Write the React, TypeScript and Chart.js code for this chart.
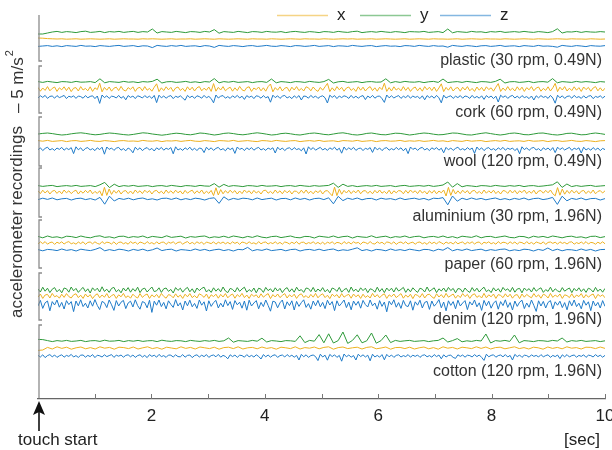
import { useEffect, useRef } from 'react';
import { Chart, registerables } from 'chart.js';
Chart.register(...registerables);

// ---------- data (m/s², deviations around each trace's rest level) ----------
const SERIES_NAMES = ['x', 'y', 'z'];
const PANEL_LABELS = [
  'plastic (30 rpm, 0.49N)',
  'cork (60 rpm, 0.49N)',
  'wool (120 rpm, 0.49N)',
  'aluminium (30 rpm, 1.96N)',
  'paper (60 rpm, 1.96N)',
  'denim (120 rpm, 1.96N)',
  'cotton (120 rpm, 1.96N)',
];
const TIME_MIN = 0;
const TIME_MAX = 10;
const X_TICK_LABELS = [2, 4, 6, 8, 10];

const plasticX = [0.5,0.4,0.2,0.1,0,0.1,-0.1,0,0.1,-0.1,0,0.1,0,-0.1,0,0.1,-0.1,0,0.1,0,
 0,-0.1,0.1,0,0.1,0,-0.1,0,0.1,-0.1,0,0,0.1,-0.1,0,0.1,0,-0.1,0.1,0,
 -0.1,0,0.1,0,-0.1,0.1,0,0,-0.1,0.1,0,-0.1,0,0.1,0,-0.1,0.1,0,0,-0.1,
 0.1,0,-0.1,0,0.1,0,0.1,-0.1,0,0,0.1,-0.1,0,0.1,0,-0.1,0,0.1,-0.1,0,
 0.1,0,-0.1,0.1,0,0,-0.1,0,0.1,-0.1,0,0.1,0,-0.1,0.1,0,0,-0.1,0.1,0,
 -0.1,0,0.1,0,-0.1,0.1,0,-0.1,0,0.1,0,-0.1,0.1,0,0,-0.1,0.1,0,-0.1,0];
const plasticY = [-1,-1,-0.5,0,0.3,-0.2,0.2,0,-0.3,0.2,0.4,-0.2,0,0.3,-0.3,0.2,0,0.3,-0.2,0.1,
 0.3,-0.2,0.2,0,1.5,-0.5,0.2,0,-0.2,0.3,0,-0.3,0.2,0.1,-0.2,0.3,0,1.2,-0.6,0.2,
 0,-0.2,0.3,0,-0.3,0.2,0.1,-0.2,0.3,0,-0.1,0.2,-0.3,0.1,0.3,0,-0.2,0.2,0,-0.3,
 0.2,0.1,-0.2,0.3,0,-0.2,0.2,0.4,-0.3,0,0.2,-0.1,0.3,0,-0.2,0.2,0,-0.3,0.2,0.1,
 0,0.3,-0.2,0,0.2,-0.3,1.5,-0.4,0.2,0,-0.2,0.3,0,0.1,-0.3,0.2,0,0.3,-0.2,0,
 0.2,-0.1,0.3,0,-0.2,0.2,0,-0.3,0.2,1.6,-0.5,0.1,0,0.3,-0.2,0.2,0,-0.1,0.2,0];
const plasticZ = [-0.2,0,0.2,-0.2,0.1,-0.3,0.2,0,-0.2,0.3,-0.1,0,-0.3,0.2,0,-0.2,0.1,0.3,-0.2,0,
 0.2,-0.3,0.1,0,-0.8,0.3,0,-0.2,0.2,-0.1,0.3,-0.2,0,0.1,-0.3,0.2,0,-0.7,0.3,0,
 -0.2,0.2,0,-0.3,0.1,0.2,-0.2,0,0.3,-0.1,-0.2,0.2,0,-0.3,0.2,0.1,-0.2,0,0.3,-0.2,
 0,0.2,-0.3,0.1,0,-0.2,0.3,0,-0.2,0.1,0.2,-0.3,0,0.2,-0.1,0,-0.3,0.2,0.1,-0.2,
 0.3,0,-0.2,0.2,-0.1,0,-0.6,0.3,0,-0.2,0.2,0,-0.3,0.1,0.2,-0.2,0,0.3,-0.2,0,
 0.1,-0.3,0.2,0,-0.2,0.3,-0.1,0,-0.2,-0.6,0.3,0,-0.2,0.2,0,-0.3,0.2,0,-0.1,0.2];

const corkX = [0.8,-1.1,0.5,-0.7,1.2,-0.9,0.3,1,-1.2,0.6,-0.4,1.1,-0.8,0.9,-1.3,0.4,0.7,-1,1.2,-0.5,
 0.3,-0.9,1.1,-1.2,0.6,-0.3,2.9,-1.4,0.8,-0.6,1,-1.1,0.4,0.9,-0.8,1.3,-0.5,-1,0.7,-0.2,
 1.1,-1.2,0.5,0.8,-0.9,1.2,-0.6,0.3,-1.1,0.9,2.6,-1.3,0.6,-0.8,1.1,-0.4,0.8,-1.2,0.5,1,
 -0.7,0.3,-1.2,1.1,-0.5,0.9,-1,0.6,1.2,-0.9,0.4,-0.6,1,-1.2,2.7,-1.1,0.8,-0.5,1.2,-0.9,
 0.2,0.9,-1.1,0.6,-0.8,1.3,-0.4,-1,0.7,1.1,-1.2,0.5,-0.3,1,-0.9,0.6,-1.1,1.2,2.5,-1.4,
 0.7,-0.6,1.1,-1,0.4,0.8,-1.2,0.9,-0.5,1.2,-0.8,0.3,-1,1.1,0.6,-0.9,1,-0.4,-1.2,0.8,
 -0.6,1.1,2.8,-1.3,0.6,-0.9,1.2,-0.4,0.8,-1.1,0.5,1,-0.7,0.3,-1.2,1.1,-0.6,0.9,-1,0.4,
 1.2,-0.8,0.6,-1.1,0.9,-0.3,2.9,-1.2,0.7,-1,1.1,-0.5,0.4,-0.9,1.2,-0.7,0.8,-1.2,0.3,1,
 -0.9,0.6,-1.1,1.2,-0.4,0.9,-0.8,1,-1.2,0.5,2.6,-1.3,0.8,-0.6,1.1,-1,0.4,0.7,-1.1,0.9,
 -0.5,1.2,-0.9,0.3,-1.2,1,-0.6,0.8,-1,1.1,-0.3,0.6,-1.1,0.9,2.7,-1.2,0.5,-0.8,1.2,-0.7,
 0.4,-1,1.1,-0.6,0.9,-1.2,0.7,-0.4,1.2,-0.9,0.5,1,-1.1,0.3,-0.7,1.1,-1,0.6,2.8,-1.3,
 0.9,-0.5,1.2,-1,0.4,-0.8,1.1,-0.6,0.7,-1.2,1,-0.3,0.8,-1.1,0.5,1.2,-0.9,0.6,-1,0.4];
const corkY = [0.2,-0.2,0.3,0,-0.3,0.2,0.1,-0.2,0.3,-0.1,0,0.2,-0.3,1.6,-0.4,0.2,0,-0.2,0.3,-0.1,
 0.1,-0.3,0.2,0,0.3,1.4,-0.5,0.1,0.2,-0.2,0,0.3,-0.2,0.1,-0.3,0.2,0,1.7,-0.4,0.2,
 -0.1,0.3,-0.2,0,0.2,-0.3,0.1,0.2,-0.2,1.5,-0.4,0.2,0,-0.3,0.2,0.1,-0.2,0.3,0,-0.2,
 0.2,1.3,-0.5,0.1,0.3,-0.2,0,0.2,-0.3,0.1,0.2,-0.1,0,1.6,-0.4,0.2,-0.2,0.3,0,-0.1,
 0.2,-0.3,0.1,0.3,-0.2,1.5,-0.3,0,0.2,-0.2,0.3,0,-0.3,0.2,0.1,-0.2,0.3,1.4,-0.5,0.1,
 0.2,-0.2,0,0.3,-0.3,0.1,0.2,-0.1,1.7,-0.4,0.2,0,-0.2,0.3,-0.1,0.2,0,-0.3,0.2,0];
const corkZ = [-0.5,0.6,-0.2,0.8,-0.7,0.3,0.5,-0.6,0.7,-0.3,0.2,0.8,-0.8,0.4,-0.1,0.6,-0.7,0.5,0.2,-0.6,
 0.7,-0.4,0.3,0.6,-0.8,0.5,-3.2,1,-0.3,0.6,-0.7,0.4,0.2,-0.5,0.8,-0.6,0.3,-1.4,0.7,-0.2,
 0.5,-0.8,0.6,0.2,-0.5,0.7,-0.3,0.4,-0.7,0.8,-2.8,0.9,-0.4,0.5,-0.6,0.3,0.7,-0.8,0.4,-0.2,
 0.6,-0.5,-1.6,0.8,-0.3,0.5,-0.7,0.6,0.2,-0.6,0.8,-0.4,0.3,-0.8,-2.9,1,-0.5,0.4,0.7,-0.6,
 0.2,-0.7,0.6,-0.3,0.8,-0.5,0.4,-1.2,0.7,-0.2,0.5,-0.8,0.6,0.3,-0.6,0.7,-0.4,0.2,-2.6,0.9,
 -0.3,0.6,-0.7,0.4,0.8,-0.5,0.2,-0.8,0.6,-0.4,0.7,-1.5,0.5,0.3,-0.6,0.8,-0.3,0.5,-0.7,0.2,
 0.6,-0.4,-3,0.9,-0.2,0.7,-0.8,0.5,-0.3,0.6,0.2,-0.7,0.8,-0.5,0.4,-0.6,0.3,0.7,-1.3,0.5,
 -0.4,0.8,-0.6,0.3,0.5,-0.8,-2.7,1,-0.4,0.6,-0.5,0.2,0.7,-0.7,0.4,-0.3,0.8,-0.6,0.5,-0.2,
 0.3,-0.8,0.6,-1.4,0.7,-0.3,0.5,-0.6,0.8,-0.4,-2.9,0.9,-0.5,0.2,0.6,-0.7,0.4,-0.3,0.7,-0.6,
 0.5,0.2,-0.7,0.8,-0.5,0.3,-0.6,0.6,-1.2,0.7,-0.3,0.5,-0.8,0.4,-2.5,0.9,-0.2,0.6,-0.7,0.3,
 0.8,-0.5,0.4,-0.6,0.7,-0.3,0.2,-0.8,0.5,-1.5,0.6,-0.4,0.7,-0.2,0.3,-0.7,0.8,-0.5,-3.1,0.9,
 -0.4,0.6,-0.7,0.3,0.5,-0.6,0.8,-0.3,0.2,-0.7,0.6,-0.5,0.4,0.7,-0.8,0.3,-0.2,0.6,-0.5,0.4];

const woolX = [0.2,-0.1,0.3,-0.2,0,0.2,-0.3,0.1,0.2,-0.2,0,0.3,-0.1,-0.2,0.2,0,-0.3,0.1,0.2,-0.1,
 0,-0.2,0.3,0,-0.1,0.2,-0.3,0.1,0,0.2,-0.2,0.1,0.3,-0.1,-0.2,0.2,0,-0.3,0.2,0.1,
 -0.1,0.3,-0.2,0,0.2,-0.1,-0.3,0.2,0.1,-0.2,0.3,0,-0.2,0.1,0.2,-0.3,0,0.2,-0.1,0.3,
 -0.2,0,0.1,-0.3,0.2,0.1,-0.1,0.3,-0.2,0,0.2,-0.3,0.1,0.2,-0.1,0,0.3,-0.2,0.1,-0.1,
 0.2,-0.2,0,0.3,-0.1,0.1,-0.3,0.2,0,-0.2,0.3,-0.1,0.1,0.2,-0.3,0,0.2,-0.1,0.3,-0.2,
 0,0.1,-0.2,0.3,-0.1,0,0.2,-0.3,0.1,0.2,-0.2,0,0.3,-0.1,-0.2,0.2,0,-0.3,0.1,0.2];
const woolY = [0,0.3,0.5,0.2,-0.2,-0.5,-0.3,0.1,0.4,0.6,0.3,-0.1,-0.4,-0.2,0.2,0.5,0.3,0,-0.3,-0.5,
 -0.2,0.2,0.6,0.4,0,-0.3,-0.6,-0.3,0.1,0.4,0.2,-0.2,-0.4,0,0.5,0.3,-0.1,-0.5,-0.2,0.3,
 0.5,0.2,-0.2,-0.4,-0.1,0.3,0.6,0.3,-0.1,-0.5,-0.3,0.2,0.4,0.1,-0.3,-0.5,-0.1,0.3,0.5,0.2,
 -0.2,-0.4,0,0.4,0.6,0.2,-0.3,-0.5,-0.2,0.3,0.5,0.1,-0.3,-0.4,0,0.4,0.3,-0.1,-0.5,-0.2,
 0.2,0.5,0.3,-0.1,-0.4,-0.3,0.1,0.5,0.4,0,-0.4,-0.5,-0.1,0.3,0.6,0.2,-0.2,-0.5,-0.2,0.3,
 0.5,0.2,-0.3,-0.4,0,0.4,0.5,0.1,-0.3,-0.5,-0.2,0.3,0.4,0,-0.4,-0.3,0.2,0.5,0.2,-0.2];
const woolZ = [-0.4,0.6,-0.8,0.3,0.9,-0.5,0.2,-0.7,0.5,-0.2,0.8,-0.6,0.4,-0.3,0.7,-2.3,1.1,-0.4,0.6,-0.9,
 0.3,0.7,-0.5,0.2,-0.8,0.6,-0.3,0.9,-2.6,1,-0.2,0.5,-0.7,0.4,0.8,-0.6,0.2,-0.9,0.5,-0.3,
 -1.9,0.9,-0.4,0.6,-0.8,0.2,0.7,-0.5,0.3,-1,0.6,-0.3,0.8,-0.6,0.4,-0.2,0.7,-2.4,1.1,-0.5,
 0.2,-0.7,0.6,-0.3,0.9,-0.6,0.4,-0.8,0.5,0.2,-1.8,0.9,-0.4,0.6,-0.7,0.3,0.8,-0.5,0.2,-0.9,
 0.6,-0.3,0.5,-2.2,1,-0.2,0.4,-0.8,0.6,-0.3,0.7,-0.6,0.3,0.8,-0.5,0.2,-0.7,0.5,-0.2,0.6,
 -2,0.9,-0.4,0.5,-0.8,0.3,0.6,-0.5,0.7,-0.3,0.2,-0.9,0.6,-2.5,1.1,-0.3,0.7,-0.6,0.2,0.8,
 -0.5,0.3,-0.7,0.6,-0.2,0.9,-0.6,0.4,-2.1,1,-0.5,0.6,-0.3,0.8,-0.7,0.2,0.5,-0.8,0.4,-0.2,
 0.7,-1.7,0.9,-0.4,0.5,-0.8,0.3,0.7,-0.6,0.2,-0.5,0.8,-0.3,0.6,-0.9,0.4,-2.3,1,-0.2,0.5,
 -0.7,0.4,0.8,-0.5,0.3,-0.8,0.6,-0.2,0.7,-0.6,0.4,-1.9,0.8,-0.4,0.5,-0.7,0.3,0.9,-0.5,0.2,
 -0.6,0.7,-0.3,0.5,-2.2,1,-0.4,0.6,-0.8,0.3,0.7,-0.5,0.2,-0.7,0.6,-0.3,0.8,-0.6,0.4,-0.2,
 0.5,-0.8,0.3,-2.4,1.1,-0.3,0.6,-0.7,0.4,0.8,-0.5,0.2,-0.9,0.6,-0.3,0.5,-0.7,0.7,-1.8,0.9,
 -0.3,0.6,-0.5,0.2,0.8,-0.7,0.4,-0.2,0.6,-2,0.9,-0.5,0.3,-0.6,0.7,-0.4,0.5,-0.8,0.3,-0.3];

const aluminiumX = [0.6,-0.8,0.9,-0.5,0.7,-1,0.4,0.8,-0.7,0.5,-0.9,1,-0.4,0.6,-0.8,0.3,0.9,-1,0.5,-0.6,
 0.8,-0.4,1,-0.9,0.3,-0.7,0.6,-1.9,2.3,-1.7,1.5,-1.2,0.8,-0.6,0.9,-1,0.4,0.7,-0.8,0.5,
 -0.9,1,-0.4,0.6,-0.8,0.9,-0.3,0.7,-1,0.5,0.8,-0.6,0.4,-0.9,1,-0.5,0.6,-0.7,0.9,-0.4,
 0.5,-1,0.8,-0.6,0.3,0.9,-0.8,0.6,-0.5,1,-0.9,0.4,-0.7,0.8,-1.8,2.1,-1.5,1.2,-0.9,0.7,
 -0.6,0.9,-0.4,0.7,-1,0.5,-0.8,1,-0.3,0.6,-0.9,0.8,-0.5,0.4,-1,0.7,0.9,-0.6,0.3,-0.8,
 1,-0.5,0.6,-0.9,0.8,-0.4,0.7,-1,0.5,0.3,-0.8,0.9,-0.6,1,-0.7,0.4,-0.9,0.6,-0.3,0.8,
 -1,0.5,0.7,-0.6,-1.9,2.4,-1.8,1.4,-1.1,0.8,-0.5,0.9,-0.8,0.6,-0.4,1,-0.9,0.5,0.7,-0.7,
 0.4,-0.9,0.8,-0.5,1,-0.6,0.3,-0.8,0.9,-1,0.6,-0.4,0.7,0.5,-0.9,0.8,-0.6,1,-0.3,0.6,
 -0.8,0.9,-0.5,0.4,-1,0.7,-0.6,0.8,-0.9,0.5,-0.4,1,-2,2.3,-1.7,1.3,-1,0.6,-0.8,0.9,
 -0.4,0.7,-1,0.5,0.8,-0.7,0.3,-0.9,1,-0.6,0.6,-0.5,0.9,-0.8,0.4,-1,0.7,0.5,-0.7,0.9,
 -0.5,0.8,-0.9,0.6,-0.3,1,-0.8,0.4,-0.6,0.9,-1,0.5,0.7,-0.6,0.8,-0.4,1,-0.9,-1.9,2.2,
 -1.6,1.5,-1.1,0.8,-0.7,0.9,-0.5,0.6,-1,0.4,0.8,-0.8,0.5,-0.6,1,-0.9,0.3,0.7,-0.5,0.6];
const aluminiumY = [0.2,-0.2,0.1,0.3,-0.3,0,0.2,-0.1,0.3,-0.2,0,0.2,-0.3,0.6,1.8,-0.8,0.9,-0.3,0.2,-0.1,
 0.3,-0.2,0,0.2,-0.3,0.1,0.2,-0.2,0.3,0,-0.3,0.2,0.1,-0.2,0.3,0,-0.1,1.2,-0.6,0.8,
 -0.2,0.2,0,-0.3,0.2,0.1,-0.2,0.3,-0.1,0,0.2,-0.3,0.1,0.2,-0.2,0.3,0,-0.2,0.2,-0.1,
 0.1,0.3,1.4,-0.7,0.9,-0.2,0.2,-0.3,0,0.2,-0.1,0.3,-0.2,0,0.2,-0.3,0.1,0.3,-0.2,0,
 0.2,-0.1,0.3,-0.2,0.1,0.5,2,-0.6,1.2,-0.4,0.2,0,-0.3,0.2,0.1,-0.2,0.3,0,-0.2,0.2,
 -0.1,0.3,-0.3,0.1,0.2,-0.2,0,0.3,0.6,2.1,-0.7,1,-0.3,0.2,-0.2,0.1,0.3,-0.2,0,0.2];
const aluminiumZ = [-0.3,0.4,-0.2,0.5,-0.4,0.1,0.3,-0.5,0.2,0.4,-0.3,0.2,-0.5,0.8,-2.6,1.4,-1,0.3,-0.2,0.4,
 -0.4,0.2,0.5,-0.3,0.1,-0.5,0.3,0.4,-0.2,0.5,-0.4,0.2,-0.3,0.4,0.1,-0.5,0.3,0.6,-2.2,1.1,
 -0.5,0.3,-0.2,0.4,0.2,-0.4,0.5,-0.3,0.1,0.4,-0.5,0.2,0.3,-0.4,0.5,-0.2,0.3,-0.5,0.2,0.4,
 -0.3,0.6,-2.4,1.3,-0.8,0.4,-0.2,0.5,-0.4,0.2,0.3,-0.5,0.4,-0.1,0.2,-0.4,0.5,-0.3,0.1,0.4,
 -0.2,0.3,-0.5,0.4,0.2,0.7,-2.9,1.5,-1.1,0.4,-0.3,0.5,-0.2,0.3,-0.4,0.1,0.5,-0.3,0.2,-0.4,
 0.3,-0.2,0.5,-0.4,0.2,0.4,-0.3,0.1,0.8,-2.7,1.4,-0.9,0.3,-0.2,0.5,-0.4,0.2,0.3,-0.5,0.2];

const paperX = [-0.5,0.6,-0.3,0.7,-0.6,0.2,0.5,-0.7,0.4,-0.2,0.6,-0.5,0.3,0.7,-0.4,0.1,-0.6,0.5,-0.3,0.6,
 -0.7,0.3,0.5,-0.4,0.6,-0.2,-0.6,0.7,-0.3,0.4,0.2,-0.5,0.6,-0.7,0.3,0.5,-0.4,0.2,-0.6,0.7,
 -0.2,0.4,-0.6,0.5,0.1,-0.5,0.7,-0.3,0.2,-0.6,0.6,-0.4,0.3,0.5,-0.7,0.4,-0.1,0.6,-0.5,0.3,
 0.5,-0.6,0.2,0.7,-0.4,0.3,-0.5,0.6,-0.2,0.4,-0.7,0.5,0.1,-0.3,0.6,-0.6,0.4,-0.2,0.5,-0.4,
 0.3,-0.5,0.6,-0.2,0.4,-0.7,0.5,0.2,-0.4,0.6,-0.3,0.1,-0.6,0.7,-0.4,0.3,0.5,-0.5,0.2,-0.3,
 0.6,-0.4,0.3,-0.6,0.5,0.2,-0.5,0.4,-0.3,0.7,-0.6,0.3,0.4,-0.5,0.2,-0.2,0.6,-0.4,0.3,-0.5,
 0.4,-0.7,0.5,-0.2,0.6,-0.5,0.3,0.1,-0.6,0.7,-0.3,0.4,-0.5,0.6,-0.1,0.3,-0.7,0.5,0.2,-0.4,
 0.7,-0.3,-0.5,0.6,-0.2,0.4,-0.6,0.5,0.3,-0.4,0.6,-0.7,0.2,0.5,-0.3,0.6,-0.5,0.1,0.4,-0.6,
 0.3,0.5,-0.4,0.2,-0.7,0.6,-0.3,0.4,-0.5,0.7,0.1,-0.6,0.5,-0.2,0.3,-0.5,0.6,-0.4,0.2,0.5,
 -0.6,0.4,-0.2,0.6,-0.5,0.3,0.5,-0.7,0.4,-0.1,0.6,-0.4,0.2,-0.6,0.7,-0.3,0.4,0.2,-0.5,0.6,
 -0.3,0.5,-0.6,0.4,0.2,-0.5,0.7,-0.4,0.3,-0.6,0.5,0.1,-0.4,0.6,-0.7,0.3,0.5,-0.2,0.4,-0.6,
 0.6,-0.2,0.3,-0.5,0.4,0.6,-0.6,0.2,-0.3,0.5,-0.4,0.7,-0.5,0.3,0.1,-0.6,0.4,-0.3,0.6,-0.4];
const paperY = [0.3,-0.4,0.5,-0.2,0.1,-0.5,0.4,0.2,-0.3,0.5,-0.1,-0.4,0.3,0.6,-0.2,0.1,-0.5,0.3,0.4,-0.3,
 0.2,-0.1,0.5,-0.4,0.3,0,-0.3,0.6,-0.2,0.1,0.4,-0.5,0.2,-0.1,0.3,0.5,-0.4,0.1,-0.2,0.4,
 -0.3,0.5,0.1,-0.4,0.3,-0.2,0.6,-0.1,-0.4,0.2,0.4,-0.3,0.1,0.5,-0.2,-0.4,0.3,0.2,-0.5,0.4,
 0.1,-0.2,0.5,-0.3,0.2,0.4,-0.5,0.3,0,-0.2,0.6,-0.3,0.1,0.4,-0.4,0.2,-0.1,0.5,-0.3,0.2,
 0.4,-0.4,0.1,0.3,-0.2,0.5,-0.3,0.2,-0.5,0.4,0.1,-0.2,0.6,-0.4,0.2,0.3,-0.3,0.1,0.5,-0.2,
 -0.4,0.3,0.2,-0.5,0.4,-0.1,0.3,-0.3,0.5,0.1,-0.4,0.2,0.4,-0.2,0.1,-0.5,0.3,0.4,-0.3,0.2];
const paperZ = [0.2,-0.4,0.3,0.1,-0.3,0.5,-0.2,0.2,-0.5,0.4,0,-0.3,0.3,1.2,-0.4,0.2,-0.3,0.4,0.1,-0.5,
 0.3,-0.2,0.4,-0.4,0.1,1,-0.3,0.2,0.4,-0.5,0.2,0,-0.3,0.5,-0.2,0.3,-0.4,0.1,0.4,-0.3,
 0.2,-0.5,0.3,0.1,1.3,-0.4,0.2,-0.2,0.5,-0.3,0,0.3,-0.4,0.2,0.4,-0.5,0.1,0.3,-0.2,0.4,
 -0.3,0.2,0.5,-0.4,0.1,-0.2,0.4,1.1,-0.3,0.2,-0.5,0.3,0.1,-0.4,0.5,-0.2,0.2,-0.3,0.4,0,
 -0.4,0.3,0.2,-0.5,0.4,-0.1,1.2,-0.4,0.3,-0.2,0.5,-0.3,0.1,0.4,-0.4,0.2,-0.2,0.3,0.5,-0.4,
 0.1,-0.3,0.4,0.2,-0.5,0.3,-0.2,1,-0.3,0.4,-0.4,0.2,0.1,-0.3,0.5,-0.2,0.3,-0.5,0.2,0.3];

const denimX = [-0.6,1,-1.2,0.5,0.8,-1,1.3,-0.4,0.2,-1.1,0.9,-0.7,1.2,-0.3,-1,0.6,1.1,-0.8,0.4,-1.2,
 1,-0.5,0.7,-1.3,0.3,1.1,-0.9,0.5,-0.6,1.2,-1,0.2,0.8,-1.2,0.6,-0.4,1.3,-0.8,0.1,-1.1,
 0.9,-0.3,-1,1.2,-0.7,0.4,1,-1.2,0.6,-0.5,0.8,-0.9,1.3,-0.2,-1.1,0.7,0.3,-0.9,1.1,-0.6,
 0.5,-1.2,0.9,-0.4,1.2,-0.8,0.2,-1,1.1,0.4,-0.7,1,-1.3,0.6,-0.3,0.9,-1.1,0.8,-0.5,1.2,
 -0.9,0.3,1,-1.1,0.7,-0.4,1.3,-0.8,0.5,-1.2,0.9,-0.2,0.6,-1,1.1,-0.6,0.4,1.2,-1.3,0.7,
 -0.5,1,-0.8,0.3,1.2,-1,0.6,-0.4,0.9,-1.2,0.5,1.1,-0.7,0.2,-1,0.8,-0.6,1.3,-0.9,0.4,
 1.1,-0.8,0.4,-1.3,0.9,-0.2,0.7,-1,1.2,-0.6,0.3,0.8,-1.1,1,-0.4,0.6,-1.2,0.9,-0.7,0.2,
 -1,1.3,-0.5,0.7,-0.9,0.4,1.1,-1.2,0.6,-0.3,1,-0.8,0.2,1.2,-1.1,0.5,-0.6,0.9,-1.3,0.8,
 0.3,-0.7,1.2,-1,0.6,0.9,-0.4,-1.2,1.1,-0.5,0.7,-0.9,1.3,-0.6,0.2,1,-1.1,0.4,-0.8,1.2,
 -0.3,0.8,-1.2,0.5,1.1,-0.7,0.2,-1,1.3,-0.9,0.6,-0.4,1,-1.2,0.7,0.3,-0.8,1.1,-0.5,0.9,
 -1.1,0.4,0.7,-1.3,1,-0.6,0.8,-0.2,-0.9,1.2,-0.5,0.6,-1.1,0.9,0.3,-1,1.3,-0.7,0.5,-0.4,
 1,-1.2,0.6,0.2,-0.8,1.1,-0.9,0.5,-0.3,1.2,-1,0.7,-0.6,0.4,1,-1.3,0.8,-0.2,0.6,-0.9];
const denimY = [0.5,-1,1.4,-0.6,0.9,-1.3,0.4,1.2,-0.9,0.3,-1.4,1,0.6,-1.1,1.5,-0.4,0.8,-1.2,0.2,1.3,
 -0.8,0.6,-1.5,1.1,-0.3,0.9,-1,1.6,-0.7,0.4,-1.2,0.8,1.3,-0.9,0.2,-1.4,1,-0.5,1.2,-1.1,
 0.7,-0.6,1.4,-1.3,0.5,0.9,-1,0.3,1.5,-0.8,-0.4,1.1,-1.2,0.6,1,-0.7,0.3,-1.5,1.2,-0.2,
 0.9,-1.1,0.4,1.3,-0.9,0.6,-1.4,1,-0.3,0.8,1.4,-1,0.2,-1.2,1.1,-0.6,0.7,-0.9,1.5,-0.5,
 -1.3,0.8,0.3,-1,1.2,-0.7,0.5,1.4,-1.1,0.2,-0.8,1,-1.4,0.9,0.4,-1.2,1.3,-0.3,0.6,-1,
 1.1,-0.5,0.8,-1.3,0.4,1.2,-0.9,0.6,-1.1,1.4,-0.4,0.2,-1.2,1,0.7,-0.8,1.3,-1,0.5,-0.6,
 1.2,-0.9,0.3,-1.4,1,0.5,-0.7,1.3,-1.1,0.2,0.8,-1.2,1.5,-0.6,0.4,-1,1.1,-0.3,0.9,-1.3,
 0.6,0.2,-1.1,1.4,-0.8,0.7,-1.3,1,-0.4,0.9,-1,1.2,-0.5,0.3,1.3,-1.2,0.6,-0.9,1.1,-0.2,
 -1.2,0.9,0.4,-1,1.5,-0.7,0.2,1.1,-1.3,0.6,-0.5,1,-0.9,1.3,-0.3,0.8,-1.4,0.7,0.5,-1.1,
 1,-0.4,-1.2,1.2,-0.6,0.9,-1,0.4,1.4,-0.8,0.1,-1.3,1.1,-0.5,0.7,-1.1,1.3,-0.2,0.6,-0.9,
 1.3,-1.1,0.5,0.8,-1.4,1,-0.3,0.7,-1,1.2,-0.6,0.4,1.1,-1.2,0.2,-0.7,1.4,-0.9,0.6,-0.4,
 -1,1.2,-0.6,0.3,1,-1.3,0.8,-0.5,1.1,-0.8,0.6,-1.2,0.9,0.3,-1,1.3,-0.7,0.5,-1.1,0.8];
const denimZ = [-1,1.8,-2.2,0.6,1.5,-3.4,1.2,-0.5,2,-1.6,0.8,-2.5,1.7,-0.3,1.2,-3.8,1.5,-0.9,2.1,-1.3,
 0.4,-2,1.6,-1.1,2.2,-0.7,-2.8,1.3,0.6,-1.8,2,-0.4,-3.2,1.7,-1,0.9,1.8,-2.3,0.5,1.4,
 -1.5,2.1,-0.8,-2.6,1.2,0.7,-1.9,1.9,-4.2,1.4,-0.6,2,-1.3,0.8,-2.4,1.6,-0.2,-1.7,2.2,-1,
 0.6,-3,1.5,-0.9,1.9,-1.4,0.3,-2.2,2,-0.6,1.1,-3.5,1.6,-1.2,0.7,1.8,-2,0.4,-1.5,2.1,
 -0.8,1.2,-2.7,1.7,-0.4,0.9,-2.1,1.5,-3.1,1.9,-1,0.5,1.7,-2.4,0.8,-1.3,2,-0.7,-3.6,1.4,
 1,-1.9,0.6,2,-2.5,1.1,-0.8,1.6,-3,1.3,-1.2,0.7,2.1,-1.7,0.2,-2.6,1.5,-0.9,1.8,-1.4,
 0.8,-2.3,1.9,-0.5,1.2,-3.3,1.6,-1,0.4,2,-1.8,0.9,-2.9,1.5,-0.6,1.3,-2.1,1.8,-0.3,-1.5,
 2,-0.9,0.5,-2.6,1.7,-1.2,1,-3.9,1.4,-0.4,2.1,-1.6,0.7,-2.2,1.8,-0.8,-1.3,1.6,-3.1,1.1,
 -0.6,1.9,-2,0.8,1.3,-2.7,1.5,-1.1,0.3,2.2,-1.9,1,-3.4,1.6,-0.7,1.2,-2.4,1.9,-1,0.5,
 1.7,-2.8,1.1,-0.5,2,-1.4,0.6,-3.2,1.8,-0.9,1.4,-2.1,0.4,1.6,-2.6,1.2,-0.8,2.1,-1.7,0.7,
 -3,1.5,-1.2,0.9,1.9,-2.3,0.5,-1.6,2,-0.7,-3.7,1.6,-1,1.3,-2,0.8,1.7,-2.5,1.1,-0.6,
 1.4,-1.8,0.7,-2.9,1.6,-0.9,2,-1.3,0.4,-2.4,1.8,-0.6,1.1,-3.3,1.5,-1,0.8,-2,1.7,-1.2];

const cottonX = [-1.2,-1,0.3,-0.5,0.6,-0.2,0.4,-0.6,0.1,0.5,-0.4,0.2,-0.5,0.6,-0.1,0.3,-0.6,0.4,0.2,-0.3,
 0.5,-0.5,0.1,0.6,-0.3,0.2,-0.6,0.4,0,-0.4,0.6,-0.2,0.3,-0.5,0.5,0.1,-0.3,0.4,-0.6,0.2,
 0.4,-0.3,0.6,-0.5,0.1,0.3,-0.4,0.5,-0.2,0.2,-0.6,0.4,0.1,-0.3,0.6,-0.5,0.2,-0.1,0.5,-0.4,
 0.3,0.6,-0.6,0.2,0.5,-0.3,0.1,0.4,-0.5,0.3,0.6,-0.4,0,0.5,-0.6,0.2,0.3,-0.3,0.4,-0.5,
 0.1,0.5,-0.4,0.2,-0.6,0.6,-0.1,0.3,-0.5,0.4,0.1,-0.3,0.6,-0.2,0.5,-0.5,0.2,0.4,-0.4,0.1,
 0.6,-0.3,0.2,-0.5,0.4,0.1,-0.6,0.5,-0.2,0.3,-0.4,0.6,-0.1,0.2,-0.5,0.4,0.3,-0.3,0.5,-0.2];
const cottonY = [0.8,0.7,0.2,-0.3,0.2,-0.1,0.3,-0.2,0,0.3,-0.3,0.1,0.2,-0.2,0.4,-0.1,0,0.3,-0.3,0.2,
 -0.1,0.3,-0.2,0.1,0.2,-0.3,0.4,0,-0.2,0.2,0.1,-0.3,0.3,0,-0.2,0.2,-0.1,0.3,-0.2,0.1,
 1.5,-0.6,0.2,0,-0.2,0.3,-0.1,1.4,-0.5,0.2,0,-0.3,0.2,0.1,-0.2,2.6,-0.8,0.3,-0.1,3.2,
 -0.9,3.6,-1,0.2,4.5,-1.2,0.3,3.1,-0.9,0.1,4,-1.1,0.2,3,-0.8,0.3,-0.2,0.1,0.3,-0.2,
 0,0.2,-0.3,0.1,0.3,1.5,-0.5,0.2,1.2,-0.4,0.1,-0.2,0.3,0,3.5,-1,0.2,-0.1,0.3,-0.2,
 3,-0.9,0.2,0,-0.3,0.2,0.1,-0.2,0.3,0,1.5,-0.5,0.2,-0.1,0.3,-0.2,0,0.2,-0.3,0.1];
const cottonZ = [0.3,-0.5,0.6,-0.8,0.2,0.7,-0.4,0.5,-0.7,0.1,0.6,-0.6,0.3,-0.2,0.8,-0.5,0.2,-0.7,0.4,0.5,
 -0.6,0.3,-0.3,0.7,-0.8,0.4,0.1,-0.5,0.6,-0.3,0.2,0.7,-0.7,0.4,-0.1,0.5,-0.6,0.3,0.6,-0.4,
 0.5,-0.7,0.2,0.6,-0.5,0.3,-0.8,0.7,-0.2,0.4,-0.6,0.8,-0.3,0.2,-0.7,0.5,0.4,-0.5,0.6,-0.3,
 -0.4,0.7,-0.6,0.3,0.5,-0.8,0.2,0.6,-0.5,0.4,-0.3,0.7,-0.7,0.2,0.5,-0.4,0.8,-0.6,0.3,-0.2,
 -1.4,0.6,-0.3,0.5,-0.7,0.4,0.2,-0.6,0.7,-0.4,0.3,-0.5,0.6,-0.2,-1.5,0.7,-0.4,0.5,-0.6,0.3,
 0.6,-0.7,0.2,0.5,-0.5,0.7,-0.3,0.4,-0.6,0.3,-2,0.8,-0.4,0.6,-0.7,0.2,0.5,-0.3,-2.3,0.9,
 -0.5,0.4,-2.1,0.8,-0.3,0.6,-0.7,0.3,-2.6,1,-0.4,0.5,-0.6,0.2,-2,0.9,-0.3,0.6,-0.5,0.4,
 -2.4,0.9,-0.5,0.3,-0.6,0.7,-1.9,0.8,-0.4,0.5,-0.7,0.3,0.6,-0.5,0.2,-0.3,0.7,-0.6,0.4,-0.2,
 0.5,-0.7,0.3,0.6,-0.4,0.2,-0.6,0.7,-0.3,0.5,-1.4,0.6,-0.5,0.3,0.4,-0.7,-1.2,0.6,-0.2,0.5,
 -0.6,0.4,0.2,-0.5,0.7,-0.3,0.5,-0.7,-2.2,0.9,-0.4,0.3,0.6,-0.6,0.2,0.5,-0.4,0.7,-0.5,0.3,
 -2,0.8,-0.3,0.5,-0.7,0.4,0.2,-0.6,0.6,-0.2,0.3,-0.5,0.7,-0.4,0.2,0.6,-0.7,0.3,-0.3,0.5,
 -1.3,0.6,-0.4,0.7,-0.5,0.2,0.5,-0.6,0.3,-0.2,0.6,-0.7,0.4,0.2,-0.5,0.7,-0.3,0.4,-0.6,0.3];

const PANEL_SERIES = [
  [plasticX, plasticY, plasticZ],
  [corkX, corkY, corkZ],
  [woolX, woolY, woolZ],
  [aluminiumX, aluminiumY, aluminiumZ],
  [paperX, paperY, paperZ],
  [denimX, denimY, denimZ],
  [cottonX, cottonY, cottonZ],
];

// ---------- layout (stack offsets on the shared m/s² axis) ----------
const Y_MIN = 0;
const Y_MAX = 192;
const TRACE_BASE = [
  [180, 183.5, 176.5],
  [155, 158.5, 151],
  [129, 132.5, 125],
  [103.5, 106.5, 100],
  [78, 81, 74.5],
  [51.5, 54.5, 47.5],
  [25.5, 29, 21.5],
];
const LABEL_LEVEL = [169, 143, 118.5, 91, 67, 39.5, 13.5];
const BRACKETS = [
  [192, 169], [166.5, 143], [141, 116.5], [115.5, 91], [89.5, 65.5], [63, 39.5], [37, 0.5],
];
const COLORS = ['#EDB120', '#2E9A3A', '#1F7BC8'];
const LEGEND_COLORS = ['rgba(237,177,32,0.55)', 'rgba(46,154,58,0.55)', 'rgba(31,123,200,0.55)'];
const FONT = '"Liberation Sans", Arial, Helvetica, sans-serif';

const decorPlugin = {
  id: 'decor',
  afterDraw(chart: any) {
    const ctx = chart.ctx as CanvasRenderingContext2D;
    const xs = chart.scales.x;
    const ys = chart.scales.y;
    const area = chart.chartArea;
    ctx.save();
    // brackets on the left
    ctx.strokeStyle = '#8c8c8c';
    ctx.lineWidth = 1.3;
    const bx = area.left + 1;
    BRACKETS.forEach(([top, bot], i) => {
      const yt = ys.getPixelForValue(top);
      const yb = ys.getPixelForValue(bot);
      ctx.beginPath();
      if (i > 0) { ctx.moveTo(bx + 3, yt); ctx.lineTo(bx, yt); } else { ctx.moveTo(bx, yt); }
      ctx.lineTo(bx, yb);
      if (i < BRACKETS.length - 1) ctx.lineTo(bx + 3, yb);
      ctx.stroke();
    });
    // inward x ticks
    ctx.strokeStyle = '#777';
    ctx.lineWidth = 1;
    for (let v = TIME_MIN + 1; v <= TIME_MAX; v++) {
      const x = Math.round(xs.getPixelForValue(v)) + 0.5;
      ctx.beginPath();
      ctx.moveTo(x, area.bottom);
      ctx.lineTo(x, area.bottom - 5);
      ctx.stroke();
    }
    // panel labels
    ctx.fillStyle = '#333';
    ctx.font = `16px ${FONT}`;
    ctx.textAlign = 'right';
    ctx.textBaseline = 'middle';
    PANEL_LABELS.forEach((lab, i) => {
      ctx.fillText(lab, area.right - 3, ys.getPixelForValue(LABEL_LEVEL[i]));
    });
    // legend
    const legX = [277, 360, 440];
    ctx.font = `17px ${FONT}`;
    ctx.textAlign = 'left';
    SERIES_NAMES.forEach((n, i) => {
      ctx.strokeStyle = LEGEND_COLORS[i];
      ctx.lineWidth = 1.5;
      ctx.beginPath();
      ctx.moveTo(legX[i], 15.5);
      ctx.lineTo(legX[i] + 51, 15.5);
      ctx.stroke();
      ctx.fillStyle = '#222';
      ctx.fillText(n, legX[i] + 60, 15);
    });
    // y label & scale
    ctx.fillStyle = '#333';
    ctx.save();
    ctx.translate(17, 222);
    ctx.rotate(-Math.PI / 2);
    ctx.textAlign = 'center';
    ctx.font = `17px ${FONT}`;
    ctx.fillText('accelerometer recordings', 0, 0);
    ctx.restore();
    ctx.save();
    ctx.translate(18, 113);
    ctx.rotate(-Math.PI / 2);
    ctx.textAlign = 'left';
    ctx.font = `17px ${FONT}`;
    const s = '\u2013 5 m/s';
    ctx.fillText(s, 0, 0);
    const w = ctx.measureText(s).width;
    ctx.font = `11px ${FONT}`;
    ctx.fillText('2', w + 1, -8);
    ctx.restore();
    // touch start arrow
    const ax = xs.getPixelForValue(TIME_MIN) + 1;
    ctx.strokeStyle = '#111';
    ctx.fillStyle = '#111';
    ctx.lineWidth = 1.6;
    ctx.beginPath();
    ctx.moveTo(ax, 431);
    ctx.lineTo(ax, 410);
    ctx.stroke();
    ctx.beginPath();
    ctx.moveTo(ax, 401);
    ctx.lineTo(ax - 6, 415);
    ctx.lineTo(ax, 412);
    ctx.lineTo(ax + 6, 415);
    ctx.closePath();
    ctx.fill();
    ctx.fillStyle = '#222';
    ctx.font = `17px ${FONT}`;
    ctx.textAlign = 'left';
    ctx.fillText('touch start', 18, 440);
    ctx.textAlign = 'right';
    ctx.fillText('[sec]', 600, 440);
    ctx.restore();
  },
};

export default function App() {
  const ref = useRef<HTMLCanvasElement | null>(null);
  useEffect(() => {
    if (!ref.current) return;
    const datasets: any[] = [];
    PANEL_SERIES.forEach((series, p) => {
      series.forEach((arr, s) => {
        datasets.push({
          label: `${PANEL_LABELS[p]} ${SERIES_NAMES[s]}`,
          data: arr.map((v, i) => ({ x: TIME_MIN + (i * (TIME_MAX - TIME_MIN)) / (arr.length - 1), y: TRACE_BASE[p][s] + v })),
          borderColor: COLORS[s],
          borderWidth: 1,
          pointRadius: 0,
          tension: 0,
          fill: false,
        });
      });
    });
    const chart = new Chart(ref.current, {
      type: 'line',
      data: { datasets },
      plugins: [decorPlugin],
      options: {
        animation: false,
        responsive: false,
        maintainAspectRatio: false,
        layout: { padding: { left: 38, right: 7, top: 15, bottom: 0 } },
        plugins: { legend: { display: false }, tooltip: { enabled: false } },
        scales: {
          x: {
            type: 'linear',
            min: TIME_MIN,
            max: TIME_MAX,
            grid: { display: false, drawTicks: false },
            border: { display: true, color: '#666', width: 1.2 },
            ticks: {
              stepSize: 1,
              autoSkip: false,
              maxRotation: 0,
              padding: 7,
              color: '#222',
              font: { size: 17, family: FONT },
              callback: (v: any) => (X_TICK_LABELS.includes(Number(v)) ? String(v) : ''),
            },
            afterFit: (s: any) => { s.height = 51; s.paddingLeft = 0; s.paddingRight = 0; },
          },
          y: { type: 'linear', min: Y_MIN, max: Y_MAX, display: false },
        },
      },
    });
    return () => chart.destroy();
  }, []);
  return (
    <div style={{ position: 'fixed', left: 0, top: 0, width: 612, height: 450, background: '#fff' }}>
      <canvas ref={ref} width={612} height={450} style={{ width: 612, height: 450 }} />
    </div>
  );
}
